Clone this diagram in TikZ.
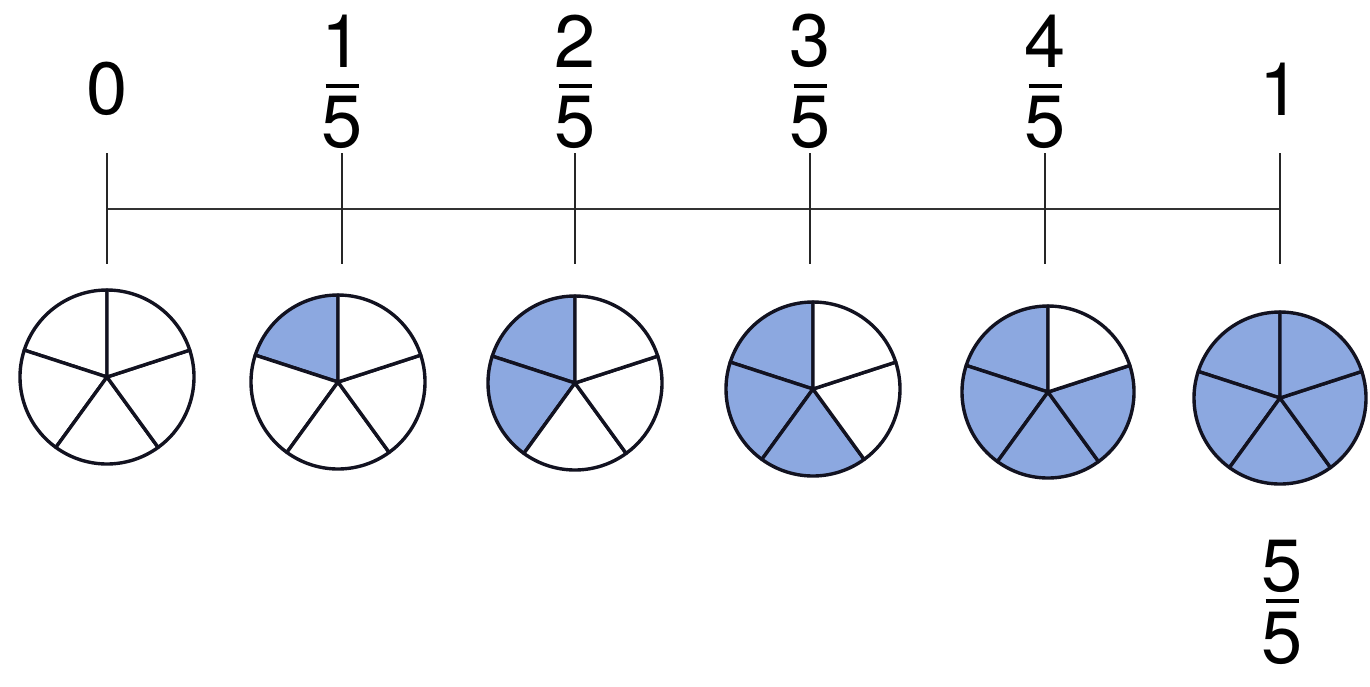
\documentclass[tikz,border=0pt]{standalone}
\usepackage{fontspec}
\setmainfont{TeX Gyre Heros}
\definecolor{pief}{RGB}{140,168,224}
\definecolor{pied}{RGB}{18,18,32}
\newcommand\mypie[4]{%
  \begin{scope}[shift={(#1,#2)},x=0.5pt,y=0.5pt]
    \foreach \k in {1,...,5}{%
      \pgfmathsetmacro\sa{90+72*(\k-1)}%
      \pgfmathsetmacro\sb{90+72*\k}%
      \ifnum\k>#4 \def\fc{white}\else\def\fc{pief}\fi
      \filldraw[slice,fill=\fc] (0,0) -- (\sa:#3) arc[start angle=\sa,end angle=\sb,radius=#3] -- cycle;
    }
  \end{scope}%
}
\begin{document}
\begin{tikzpicture}[x=0.5pt,y=-0.5pt,
  lbl/.style={inner sep=0pt,font=\fontsize{37}{40}\selectfont},
  axis/.style={line width=1.1pt,draw=black!80},
  tickline/.style={line width=0.9pt,draw=black!85},
  fracbar/.style={line width=2pt,draw=black},
  slice/.style={draw=pied,line width=1.7pt,line join=round},
]
\useasboundingbox (0,0) rectangle (1370,686);

% number line
\foreach \i/\x in {0/107,1/342,2/575,3/810,4/1045,5/1280}{
  \coordinate (t\i top) at (\x,153);
  \coordinate (t\i bot) at (\x,264);
  \coordinate (a\i) at (\x,209);
}
\draw[axis] (a0) -- (a5);
\foreach \i in {0,...,5}{
  \draw[tickline] (t\i top) -- (t\i bot);
}

% labels
\node[lbl] (l0) at (107,89) {0};
\node[lbl] (l5) at (1280,89) {1};
\foreach \i/\x in {1/342,2/575,3/810,4/1045}{
  \node[lbl] (n\i) at (\x,41) {\i};
  \node[lbl] (d\i) at (\x,122) {5};
  \draw[fracbar] ([xshift=-8.25pt,yshift=4.5pt]d\i.north) -- ([xshift=8.25pt,yshift=4.5pt]d\i.north);
}
\node[lbl] (n55) at (1282,566) {5};
\node[lbl] (d55) at (1282,638) {5};
\draw[fracbar] ([xshift=-8.25pt,yshift=5pt]d55.north) -- ([xshift=8.25pt,yshift=5pt]d55.north);

% pies
\mypie{107}{377}{87}{0}
\mypie{338}{382}{87}{1}
\mypie{575}{383}{87}{2}
\mypie{813}{389}{87}{3}
\mypie{1048}{392}{86}{4}
\mypie{1280}{398}{86}{5}
\end{tikzpicture}
\end{document}
